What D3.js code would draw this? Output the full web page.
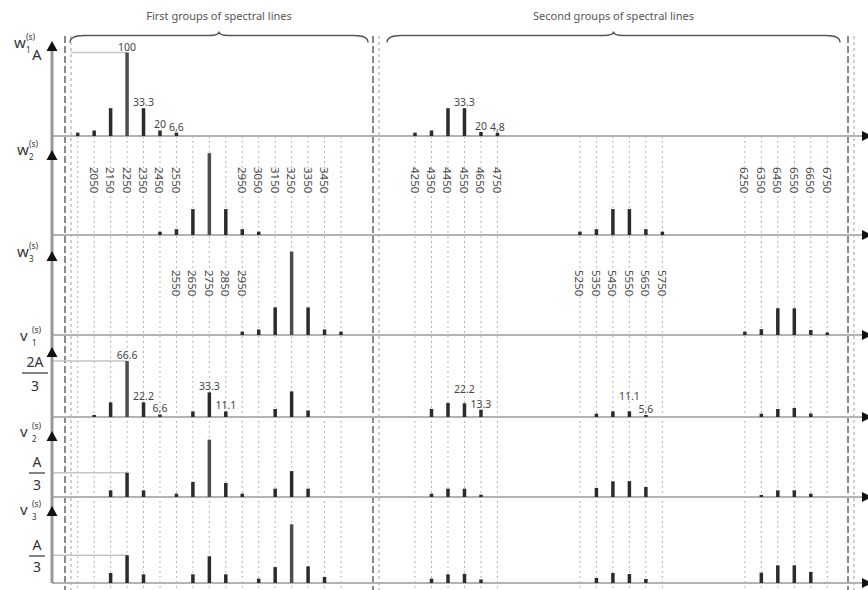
<!DOCTYPE html>
<html>
<head>
<meta charset="utf-8">
<script src="https://cdn.jsdelivr.net/npm/d3@7"></script>
<style>
  body { margin: 0; background: #fff; }
  svg { display: block; font-family: "Noto Sans", "Open Sans", sans-serif; }
</style>
</head>
<body>
<svg id="chart" width="868" height="590"></svg>
<script>
// grid lines (frequencies of the dotted verticals)
const gridFreqs = [1950, 2050, 2150, 2250, 2350, 2450, 2550, 2650, 2750, 2850, 2950, 3050, 3150, 3250, 3350, 3450, 3550,
    4250, 4350, 4450, 4550, 4650, 4750, 5250, 5350, 5450, 5550, 5650, 5750, 6250, 6350, 6450, 6550, 6650, 6750];

// rotated frequency labels
const w2TickLabels = [2050, 2150, 2250, 2350, 2450, 2550, 2950, 3050, 3150, 3250, 3350, 3450,
    4250, 4350, 4450, 4550, 4650, 4750, 6250, 6350, 6450, 6550, 6650, 6750];
const w3TickLabels = [2550, 2650, 2750, 2850, 2950, 5250, 5350, 5450, 5550, 5650, 5750];

// spectral lines of every row
const w1Freqs = [1950, 2050, 2150, 2250, 2350, 2450, 2550, 4250, 4350, 4450, 4550, 4650, 4750];
const w1Values = [4, 6.6, 33.3, 100, 33.3, 6.6, 4, 4, 6.6, 33.3, 33.3, 4.8, 4];

const w2Freqs = [2450, 2550, 2650, 2750, 2850, 2950, 3050, 5250, 5350, 5450, 5550, 5650, 5750];
const w2Values = [4, 7, 31, 98, 31, 7, 4, 4, 7, 31, 31, 7, 4];

const w3Freqs = [2950, 3050, 3150, 3250, 3350, 3450, 3550, 6250, 6350, 6450, 6550, 6650, 6750];
const w3Values = [4, 6.6, 33, 100, 33, 6.6, 4, 4, 7, 32, 32, 6, 3];

const v1Freqs = [2050, 2150, 2250, 2350, 2450, 2650, 2750, 2850, 3150, 3250, 3350,
    4350, 4450, 4550, 4650, 5350, 5450, 5550, 5650, 6350, 6450, 6550, 6650];
const v1Values = [2.5, 17.5, 67, 17.5, 3, 6.7, 29.5, 6.7, 9.6, 30.7, 7.9,
    9.6, 16.8, 16.4, 8.7, 4, 6.8, 6.8, 2.4, 4, 9.6, 10.8, 4.2];

const v2Freqs = [2150, 2250, 2350, 2550, 2650, 2750, 2850, 2950, 3150, 3250, 3350,
    4350, 4450, 4550, 4650, 5350, 5450, 5550, 5650, 6350, 6450, 6550, 6650];
const v2Values = [8, 29, 8, 4, 18, 68.7, 16.8, 4, 10, 31, 10,
    4, 10, 10, 2.8, 10.8, 18.8, 19, 12, 2.4, 8, 8, 4];

const v3Freqs = [2150, 2250, 2350, 2650, 2750, 2850, 3050, 3150, 3250, 3350, 3450,
    4350, 4450, 4550, 4650, 5350, 5450, 5550, 5650, 6350, 6450, 6550, 6650];
const v3Values = [12, 33.2, 10.4, 10.4, 32, 10.4, 5.2, 19, 70.3, 20, 7.2,
    5.2, 10.4, 11, 4.2, 6, 12, 10.8, 4.8, 12.3, 21.2, 21.2, 13.2];

// value annotations
const w1LabelFreqs = [2250, 2350, 2450, 2550, 4550, 4650, 4750];
const w1LabelTexts = ["100", "33.3", "20", "6,6", "33.3", "20", "4,8"];
const v1LabelFreqs = [2250, 2350, 2450, 2750, 2850, 4550, 4650, 5550, 5650];
const v1LabelTexts = ["66.6", "22.2", "6,6", "33.3", "11.1", "22.2", "13.3", "11.1", "5,6"];

// level of the "A" reference line in each row (null = none)
const refLevels = [100, null, null, 67, 29, 33.2];

const svg = d3.select("#chart");

const x = d3.scaleLinear()
    .domain([1950, 3550, 4250, 6750])
    .range([77.7, 341, 415, 827.3]);

const baselines = [136, 235, 335, 417, 497, 583];
const arrowTips = [41, 150, 251, 347, 431, 506];
const unit = 83.5; // px for 100

const rows = [
    {freqs: w1Freqs, values: w1Values},
    {freqs: w2Freqs, values: w2Values},
    {freqs: w3Freqs, values: w3Values},
    {freqs: v1Freqs, values: v1Values},
    {freqs: v2Freqs, values: v2Values},
    {freqs: v3Freqs, values: v3Values}
];

const yScales = baselines.map(b => d3.scaleLinear().domain([0, 100]).range([b, b - unit]));

// dotted grid
svg.append("g").selectAll("line")
    .data(gridFreqs)
    .join("line")
    .attr("x1", d => x(d)).attr("x2", d => x(d))
    .attr("y1", baselines[0]).attr("y2", 590)
    .attr("stroke", "#b5b5b5")
    .attr("stroke-width", 1)
    .attr("stroke-dasharray", "2,3");

// break lines (double dashed)
const breaks = [65, 373, 848];
breaks.forEach(bx => {
    svg.append("line")
        .attr("x1", bx).attr("x2", bx).attr("y1", 36).attr("y2", 590)
        .attr("stroke", "#8a8a8a").attr("stroke-width", 2).attr("stroke-dasharray", "7,3");
    svg.append("line")
        .attr("x1", bx + 6).attr("x2", bx + 6).attr("y1", 36).attr("y2", 590)
        .attr("stroke", "#a0a0a0").attr("stroke-width", 1).attr("stroke-dasharray", "3,3");
});

// row baselines
svg.append("g").selectAll("line")
    .data(baselines)
    .join("line")
    .attr("x1", 52).attr("x2", 862)
    .attr("y1", d => d).attr("y2", d => d)
    .attr("stroke", "#b3b3b3")
    .attr("stroke-width", 2);

// right-hand arrow heads (cut by the frame)
svg.append("g").selectAll("path")
    .data(baselines)
    .join("path")
    .attr("d", d => `M862,${d - 5}L872,${d}L862,${d + 5}Z`)
    .attr("fill", "#111");

// reference lines
refLevels.forEach((lv, i) => {
    if (lv === null) return;
    svg.append("line")
        .attr("x1", i === 0 ? 71 : 53).attr("x2", x(2250))
        .attr("y1", yScales[i](lv)).attr("y2", yScales[i](lv))
        .attr("stroke", "#c4c4c4").attr("stroke-width", 1.5);
});

// left axis
svg.append("line")
    .attr("x1", 52).attr("x2", 52).attr("y1", arrowTips[0] + 4).attr("y2", baselines[5])
    .attr("stroke", "#999").attr("stroke-width", 3);
svg.append("g").selectAll("path")
    .data(arrowTips)
    .join("path")
    .attr("d", d => `M52,${d}L46.5,${d + 10}L57.5,${d + 10}Z`)
    .attr("fill", "#111");

// spectral lines
rows.forEach((row, i) => {
    const y = yScales[i];
    svg.append("g").selectAll("rect")
        .data(row.freqs.map((f, j) => ({f, v: row.values[j]})))
        .join("rect")
        .attr("x", d => x(d.f) - 1.75)
        .attr("width", 3.5)
        .attr("y", d => y(d.v))
        .attr("height", d => y(0) - y(d.v))
        .attr("fill", d => d.v > 60 ? "#4d4d4d" : "#2b2b2b");
});

// value annotations; lift = extra px above the bar top where two labels crowd
function annotate(freqs, texts, row, lift) {
    const y = yScales[row];
    const r = rows[row];
    svg.append("g").selectAll("text")
        .data(freqs.map((f, j) => ({f, t: texts[j], v: r.values[r.freqs.indexOf(f)], l: lift[j] || 0})))
        .join("text")
        .attr("x", d => x(d.f))
        .attr("y", d => y(d.v) - 2 - d.l)
        .attr("text-anchor", "middle")
        .attr("font-size", 10.5)
        .attr("fill", "#444")
        .text(d => d.t);
}
annotate(w1LabelFreqs, w1LabelTexts, 0, [0, 0, 0, 0, 0, 0, 0]);
annotate(v1LabelFreqs, v1LabelTexts, 3, [0, 0, 0, 0, 0, 8, 0, 9, 0]);

// rotated frequency labels
function tickLabels(list, top) {
    svg.append("g").selectAll("text")
        .data(list)
        .join("text")
        .attr("transform", d => `translate(${x(d)},${top}) rotate(90)`)
        .attr("dominant-baseline", "central")
        .attr("font-size", 11.5)
        .attr("fill", "#4a4a4a")
        .text(d => d);
}
tickLabels(w2TickLabels, 167);
tickLabels(w3TickLabels, 270);

// braces and group titles
function brace(x0, x1, yb, title) {
    const mid = (x0 + x1) / 2;
    svg.append("path")
        .attr("d", `M${x0},${yb + 7} Q${x0},${yb} ${x0 + 14},${yb} L${mid - 10},${yb} Q${mid},${yb} ${mid},${yb - 4}
                    Q${mid},${yb} ${mid + 10},${yb} L${x1 - 14},${yb} Q${x1},${yb} ${x1},${yb + 7}`)
        .attr("fill", "none").attr("stroke", "#555").attr("stroke-width", 1.4);
    svg.append("text")
        .attr("x", mid).attr("y", 20)
        .attr("text-anchor", "middle")
        .attr("font-size", 11)
        .attr("fill", "#555")
        .text(title);
}
brace(70, 368, 35.5, "First groups of spectral lines");
brace(387, 840, 35.5, "Second groups of spectral lines");

// row titles on the left
function rowTitle(letter, idx, lx, ly) {
    svg.append("text").attr("x", lx).attr("y", ly).attr("fill", "#333").attr("font-size", 15).text(letter);
    svg.append("text").attr("x", lx + 12).attr("y", ly - 8).attr("font-size", 8.5).attr("fill", "#333").text("(s)");
    svg.append("text").attr("x", lx + 12).attr("y", ly + 5).attr("font-size", 8).attr("fill", "#333").text(idx);
}
function fraction(num, cx, yNum, x0, x1, yLine, yDen) {
    svg.append("text").attr("x", cx).attr("y", yNum).attr("text-anchor", "middle")
        .attr("font-size", 14).attr("fill", "#333").text(num);
    svg.append("line").attr("x1", x0).attr("x2", x1).attr("y1", yLine).attr("y2", yLine)
        .attr("stroke", "#333").attr("stroke-width", 1.2);
    svg.append("text").attr("x", cx).attr("y", yDen).attr("text-anchor", "middle")
        .attr("font-size", 14).attr("fill", "#333").text("3");
}

rowTitle("w", "1", 14, 48);
svg.append("text").attr("x", 32).attr("y", 60).attr("font-size", 15).attr("fill", "#333").text("A");
rowTitle("w", "2", 17, 155);
rowTitle("w", "3", 17, 257);
rowTitle("v", "1", 20, 341);
fraction("2A", 35, 367, 22, 48, 373, 391);
rowTitle("v", "2", 20, 437);
fraction("A", 37, 467, 29, 45, 473, 490);
rowTitle("v", "3", 20, 515);
fraction("A", 37, 550, 29, 45, 556, 572);
</script>
</body>
</html>
